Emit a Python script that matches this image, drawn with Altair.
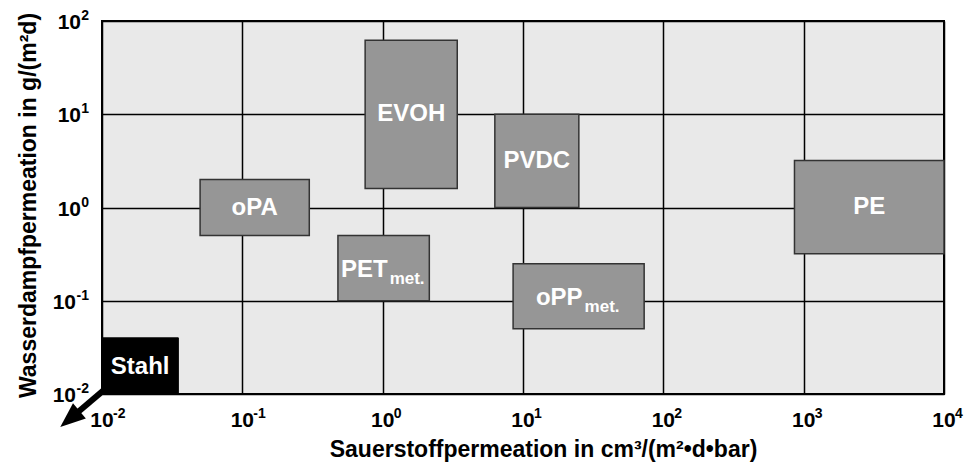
import altair as alt
import pandas as pd

# ---------------- data ----------------
materials = ["oPA", "EVOH", "PVDC", "PE", "PET", "oPP"]
subscripts = ["", "", "", "", "met.", "met."]
o2_low = [0.05, 0.75, 6.3, 860, 0.48, 8.5]
o2_high = [0.3, 3.4, 25, 10000, 2.15, 73]
h2o_low = [0.5, 1.6, 1.0, 0.32, 0.1, 0.05]
h2o_high = [2.0, 62, 10, 3.2, 0.5, 0.25]

steel_name = ["Stahl"]
steel_o2 = [0.01, 0.035]
steel_h2o = [0.01, 0.04]

# arrow pointing out of the plot corner
arrow_o2 = [0.0103, 0.0059]
arrow_h2o = [0.011, 0.0054]

x_ticks = [0.01, 0.1, 1, 10, 100, 1000, 10000]
x_tick_exps = ["-2", "-1", "0", "1", "2", "3", "4"]
y_ticks = [0.01, 0.1, 1, 10, 100]
y_tick_exps = ["-2", "-1", "0", "1", "2"]
tick_base = "10"

x_title = "Sauerstoffpermeation in cm³/(m²•d•bar)"
y_title = "Wasserdampfpermeation in g/(m²d)"

# ---------------- frames ----------------
boxes = pd.DataFrame({
    "name": materials, "sub": subscripts,
    "x": o2_low, "x2": o2_high, "y": h2o_low, "y2": h2o_high,
})
boxes["xc"] = (boxes["x"] * boxes["x2"]) ** 0.5
boxes["yc"] = (boxes["y"] * boxes["y2"]) ** 0.5

steel = pd.DataFrame({
    "name": steel_name,
    "x": [steel_o2[0]], "x2": [steel_o2[1]],
    "y": [steel_h2o[0]], "y2": [steel_h2o[1]],
})
steel["xc"] = (steel["x"] * steel["x2"]) ** 0.5
steel["yc"] = (steel["y"] * steel["y2"]) ** 0.5

arrow = pd.DataFrame({"x": [arrow_o2[0]], "y": [arrow_h2o[0]],
                      "x2": [arrow_o2[1]], "y2": [arrow_h2o[1]]})
head = pd.DataFrame({"x": [arrow_o2[1]], "y": [arrow_h2o[1]]})

xlab = pd.DataFrame({"x": x_ticks, "y": [y_ticks[0]] * len(x_ticks),
                     "base": [tick_base] * len(x_ticks), "exp": x_tick_exps})
ylab = pd.DataFrame({"x": [x_ticks[0]] * len(y_ticks), "y": y_ticks,
                     "base": [tick_base] * len(y_ticks), "exp": y_tick_exps})
ylab["neg"] = ylab["exp"].str.startswith("-")

# ---------------- scales / axes ----------------
FONT = "Liberation Sans, Arial, Helvetica, sans-serif"

xs = alt.Scale(type="log", domain=[x_ticks[0], x_ticks[-1]], nice=False)
ys = alt.Scale(type="log", domain=[y_ticks[0], y_ticks[-1]], nice=False)

W, H = 842, 373

xaxis = alt.Axis(
    values=x_ticks, labels=False, title=x_title,
    grid=True, gridColor="black", gridWidth=1.5, gridOpacity=1,
    ticks=False, tickSize=0, domain=False,
    titleFont=FONT, titleFontSize=23, titleFontWeight="bold", titleColor="black",
    titleX=441, titleY=62, titleBaseline="alphabetic", titleAlign="center",
)
yaxis = alt.Axis(
    values=y_ticks, labels=False, title=y_title,
    grid=True, gridColor="black", gridWidth=1.5, gridOpacity=1,
    ticks=False, tickSize=0, domain=False,
    titleFont=FONT, titleFontSize=23, titleFontWeight="bold", titleColor="black",
    titleX=-67, titleY=184, titleBaseline="alphabetic", titleAlign="center", titleAngle=270,
)


def X(f):
    return alt.X(f, type="quantitative", scale=xs, axis=xaxis)


def Y(f):
    return alt.Y(f, type="quantitative", scale=ys, axis=yaxis)


rects = alt.Chart(boxes).mark_rect(fill="#969696", stroke="#333333", strokeWidth=1.5).encode(
    x=X("x"), x2="x2", y=Y("y"), y2="y2"
)

steel_rect = alt.Chart(steel).mark_rect(fill="black", stroke="black", strokeWidth=1).encode(
    x=X("x"), x2="x2", y=Y("y"), y2="y2"
)

plain_text = alt.Chart(boxes).transform_filter(alt.datum.sub == "").mark_text(
    font=FONT, fontSize=24, fontWeight="bold", color="white", align="center", baseline="middle"
).encode(x=X("xc"), y=Y("yc"), text="name:N")

main_sub_text = alt.Chart(boxes).transform_filter(alt.datum.sub != "").mark_text(
    font=FONT, fontSize=24, fontWeight="bold", color="white", align="right",
    baseline="alphabetic", dx=4, dy=9
).encode(x=X("xc"), y=Y("yc"), text="name:N")

sub_text = alt.Chart(boxes).transform_filter(alt.datum.sub != "").mark_text(
    font=FONT, fontSize=17, fontWeight="bold", color="white", align="left",
    baseline="alphabetic", dx=6, dy=16
).encode(x=X("xc"), y=Y("yc"), text="sub:N")

steel_text = alt.Chart(steel).mark_text(
    font=FONT, fontSize=24, fontWeight="bold", color="white", align="center", baseline="middle", dy=1
).encode(x=X("xc"), y=Y("yc"), text="name:N")

arrow_shaft = alt.Chart(arrow).mark_rule(color="black", strokeWidth=6, clip=False).encode(
    x=X("x"), y=Y("y"), x2="x2", y2="y2"
)

arrow_head = alt.Chart(head).mark_point(
    shape="M0,-1 L0.8,1 L-0.8,1 Z", size=625, angle=230, filled=True,
    color="black", opacity=1, clip=False
).encode(x=X("x"), y=Y("y"))

# tick labels "10" + superscript exponent
TL = dict(font=FONT, fontWeight="bold", color="black", baseline="alphabetic")
xlab_base = alt.Chart(xlab).mark_text(fontSize=21, align="center", dy=33, **TL).encode(
    x=X("x"), y=Y("y"), text="base:N")
xlab_exp = alt.Chart(xlab).mark_text(fontSize=14, align="left", dx=11, dy=24, **TL).encode(
    x=X("x"), y=Y("y"), text="exp:N")

ylab_exp = alt.Chart(ylab).mark_text(fontSize=14, align="right", dx=-13, dy=-1, **TL).encode(
    x=X("x"), y=Y("y"), text="exp:N")
ylab_base_neg = alt.Chart(ylab).transform_filter(alt.datum.neg).mark_text(
    fontSize=21, align="right", dx=-26, dy=8, **TL).encode(x=X("x"), y=Y("y"), text="base:N")
ylab_base_pos = alt.Chart(ylab).transform_filter(~alt.datum.neg).mark_text(
    fontSize=21, align="right", dx=-21, dy=8, **TL).encode(x=X("x"), y=Y("y"), text="base:N")

chart = alt.layer(
    rects, steel_rect, plain_text, main_sub_text, sub_text, steel_text, arrow_shaft, arrow_head,
    xlab_base, xlab_exp, ylab_exp, ylab_base_neg, ylab_base_pos
).properties(
    width=W, height=H,
    autosize=alt.AutoSizeParams(type="none"),
    padding={"left": 94, "top": 13, "right": 21, "bottom": 69},
    background="white",
).configure_view(
    fill="#e9e9e9", stroke="black", strokeWidth=2
)

chart.save("out.html", embed_options={"renderer": "svg", "actions": False})
